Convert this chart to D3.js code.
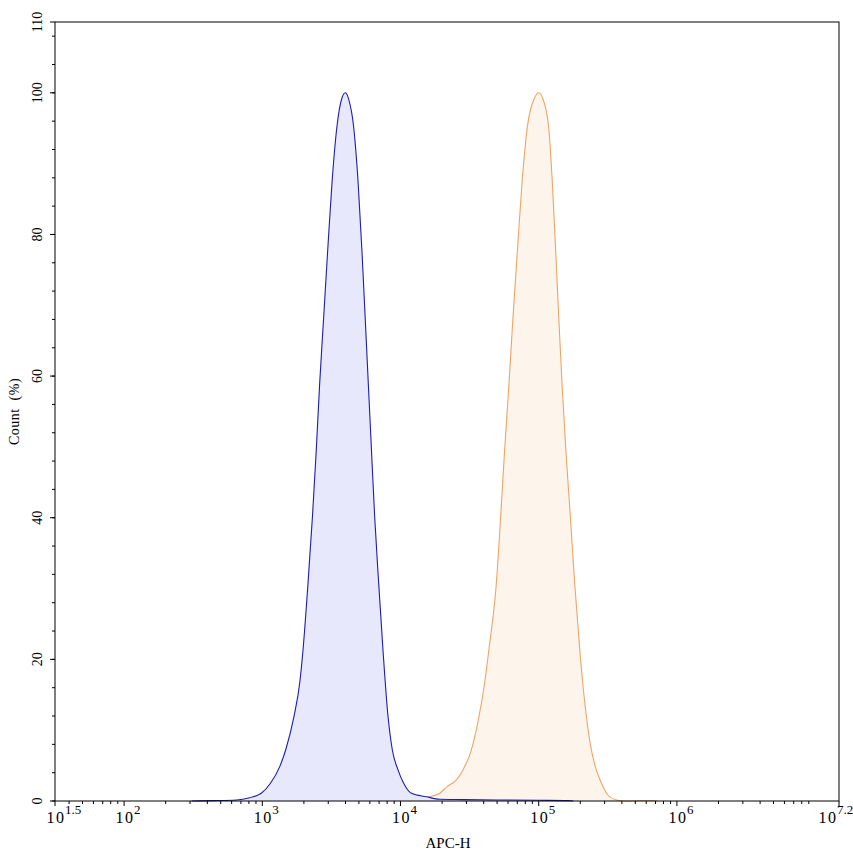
<!DOCTYPE html>
<html>
<head>
<meta charset="utf-8">
<script src="https://cdn.jsdelivr.net/npm/d3@7"></script>
<style>
  body { margin: 0; background: #fff; }
  svg text { font-family: "Liberation Serif", "Times New Roman", serif; fill: #000; }
</style>
</head>
<body>
<div id="chart"></div>
<script>
const W = 853, H = 856;
const margin = {top: 22, right: 14, bottom: 55, left: 55};
const width = W - margin.left - margin.right;   // 784
const height = H - margin.top - margin.bottom;  // 779

// blue histogram (APC-H value, count %)
const blueX = [308, 438, 650, 811, 984, 1146, 1337, 1476, 1694, 1866, 1972, 2143, 2307, 2460, 2600, 2780,
  2972, 3192, 3467, 3760, 3990, 4230, 4581, 4940, 5260, 5550, 5850, 6160, 6501, 6950, 7464, 8128, 8730, 9594,
  10540, 11995, 15380, 19230, 28180, 50120, 100000, 166000, 178000];
const blueY = [0, 0.05, 0.14, 0.47, 1.09, 2.5, 4.85, 7.2, 11.9, 16.7, 21.4, 30.8, 40.2, 49.7, 58.9, 68.3,
  77.7, 87.2, 95.2, 99.2, 100, 99.0, 95.2, 87.2, 77.7, 68.3, 58.9, 49.7, 40.2, 30.8, 21.4, 11.9, 7.2, 4.4,
  2.5, 1.09, 0.6, 0.24, 0.2, 0.15, 0.1, 0.05, 0];

// orange histogram
const orangeX = [11670, 13770, 16260, 19230, 21730, 25350, 28310, 32580, 36980, 40640, 43650, 49430,
  53090, 56750, 60950, 65160, 70150, 75680, 82790, 93500, 100460, 107000, 118030, 125610, 132740, 139640, 147500,
  157000, 169430, 181970, 198150, 221310, 240440, 261220, 284440, 316960, 364750, 416900, 562000,
  660700, 724000];
const orangeY = [0, 0.38, 0.61, 1.09, 2.02, 2.97, 4.39, 7.22, 11.93, 16.7, 21.4, 30.85,
  40.2, 49.7, 58.9, 68.3, 77.7, 87.2, 95.2, 99.3, 100, 99.2, 95.2, 87.2, 77.7, 68.3, 58.9,
  49.7, 40.2, 30.85, 21.4, 11.93, 7.22, 4.39, 2.5, 0.85, 0.14, 0, 0.05,
  0.08, 0];

// axis ticks
const xTickExp = ["1.5", "2", "3", "4", "5", "6", "7.2"];
const yTicks = [0, 20, 40, 60, 80, 100, 110];

const xMin = Math.pow(10, 1.5), xMax = Math.pow(10, 7.173);
const x = d3.scaleLog().domain([xMin, xMax]).range([0, width]);
const y = d3.scaleLinear().domain([0, 110]).range([height, 0]);

const svg = d3.select("#chart").append("svg")
    .attr("width", W).attr("height", H)
  .append("g")
    .attr("transform", "translate(" + margin.left + "," + margin.top + ")");

function series(xs, ys) {
  return xs.map((v, i) => ({x: v, y: ys[i]}));
}

const area = d3.area()
    .x(d => x(d.x)).y0(y(0)).y1(d => y(d.y))
    .curve(d3.curveMonotoneX);
const line = d3.line()
    .x(d => x(d.x)).y(d => y(d.y))
    .curve(d3.curveMonotoneX);

const orange = series(orangeX, orangeY);
const blue = series(blueX, blueY);

svg.append("path").datum(orange).attr("d", area).attr("fill", "#fdf5ec");
svg.append("path").datum(orange).attr("d", line)
    .attr("fill", "none").attr("stroke", "#f0a462").attr("stroke-width", 1.1);
svg.append("path").datum(blue).attr("d", area).attr("fill", "#e8e8fc");
svg.append("path").datum(blue).attr("d", line)
    .attr("fill", "none").attr("stroke", "#1c1cb4").attr("stroke-width", 1.1);

// frame
svg.append("rect").attr("x", 0).attr("y", 0).attr("width", width).attr("height", height)
    .attr("fill", "none").attr("stroke", "#000").attr("stroke-width", 1);

// y axis ticks
const yMinor = d3.range(0, 110, 4);
svg.append("g").selectAll("line.minor").data(yMinor).enter().append("line")
    .attr("x1", -3).attr("x2", 0)
    .attr("y1", d => y(d)).attr("y2", d => y(d))
    .attr("stroke", "#000");
svg.append("g").selectAll("line.major").data(yTicks).enter().append("line")
    .attr("x1", -5).attr("x2", 0)
    .attr("y1", d => y(d)).attr("y2", d => y(d))
    .attr("stroke", "#000");
svg.append("g").selectAll("text").data(yTicks).enter().append("text")
    .attr("transform", d => "translate(-13," + y(d) + ") rotate(-90)")
    .attr("text-anchor", "middle")
    .style("font-size", "14px")
    .text(d => d);

// x axis ticks
const xMinor = [];
for (let e = 1; e <= 7; e++) {
  for (let m = 2; m <= 9; m++) {
    const v = m * Math.pow(10, e);
    if (v > xMin && v < xMax) xMinor.push(v);
  }
}
svg.append("g").selectAll("line").data(xMinor).enter().append("line")
    .attr("x1", d => x(d)).attr("x2", d => x(d))
    .attr("y1", height).attr("y2", height + 3)
    .attr("stroke", "#000");

const xMajor = xTickExp.map(e => e === "7.2" ? xMax : Math.pow(10, +e));
svg.append("g").selectAll("line").data(xMajor).enter().append("line")
    .attr("x1", d => x(d)).attr("x2", d => x(d))
    .attr("y1", height).attr("y2", height + 5)
    .attr("stroke", "#000");

// last label sits left of its tick so it fits inside the page
const xl = svg.append("g").selectAll("g").data(xTickExp).enter().append("g")
    .attr("transform", (d, i) => "translate(" + (x(xMajor[i]) + (i === xTickExp.length - 1 ? -12 : 0)) + "," + (height + 22) + ")");
xl.append("text")
    .attr("text-anchor", "middle")
    .style("font-size", "16px")
    .style("letter-spacing", "1.5px")
    .attr("x", 1)
    .text("10");
xl.append("text")
    .attr("x", 10)
    .attr("y", -9)
    .style("font-size", "13px")
    .text(d => d);

// axis titles
svg.append("text")
    .attr("x", width / 2 + 1).attr("y", height + 47)
    .attr("text-anchor", "middle")
    .style("font-size", "15px")
    .text("APC-H");
svg.append("text")
    .attr("transform", "translate(-36," + (height / 2) + ") rotate(-90)")
    .attr("text-anchor", "middle")
    .style("font-size", "14px")
    .style("letter-spacing", "0.5px")
    .style("white-space", "pre")
    .text("Count  (%)");
</script>
</body>
</html>
